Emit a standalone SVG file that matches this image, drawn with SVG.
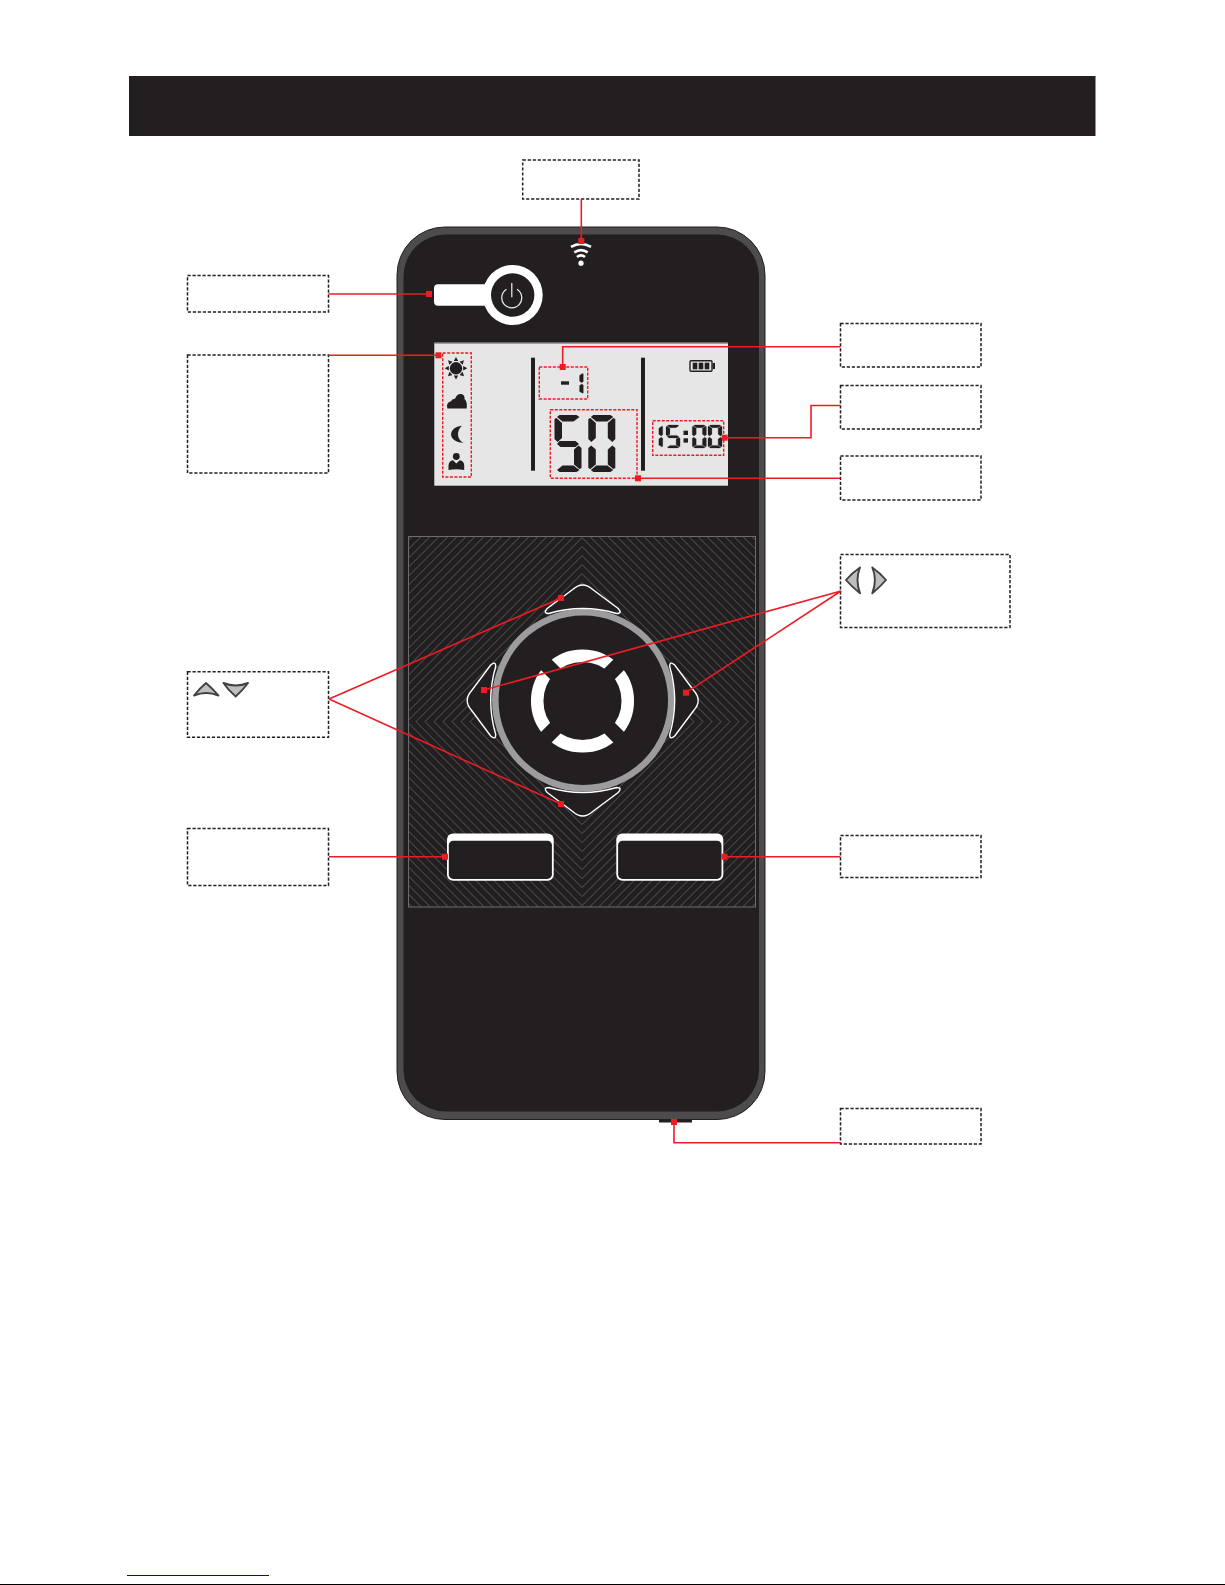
<svg xmlns="http://www.w3.org/2000/svg" xmlns:xlink="http://www.w3.org/1999/xlink" width="1225" height="1585" viewBox="0 0 1225 1585">
<style>
.dk{fill:#231f20}
.box{fill:#fff;stroke:#231f20;stroke-width:1.5;stroke-dasharray:3.2 1.8}
.rd{fill:none;stroke:#ed1c24;stroke-width:1.4;stroke-dasharray:3 1.5}
.cn{fill:none;stroke:#ed1c24;stroke-width:1.6}
.sq{fill:#ed1c24}
.mini{fill:#bcbec0;stroke:#414042;stroke-width:1.9;stroke-linejoin:round}
.btn{fill:#231f20;stroke:#fff;stroke-width:1.4}
.thin{stroke:#231f20;stroke-width:.5}
</style>
<defs>
<clipPath id="pc"><rect x="408.5" y="536.5" width="347" height="370.5"/></clipPath>
<polygon id="sa" points="5,0 22,0 25,2 19,6.5 8,6.5 2.5,2"/>
<polygon id="sf" points="0,4 2,3 7.5,8 7.5,23 3,27 0,24"/>
<polygon id="sb" points="27,4 25,3 19.5,8 19.5,23 24,27 27,24"/>
<polygon id="sg" points="5,26 21,26 24.5,29 21,32 6,32 2.5,29"/>
<polygon id="se" points="0,33 3,30.5 7.5,34.5 7.5,49.5 2,54 0,53"/>
<polygon id="sc" points="27,33 24,30.5 19.5,34.5 19.5,49.5 25,54 27,53"/>
<polygon id="sd" points="8,50.5 19,50.5 25,55 22,57 5,57 2.5,55"/>
<g id="d5" class="dk"><use href="#sa"/><use href="#sf"/><use href="#sg"/><use href="#sc"/><use href="#sd"/></g>
<g id="d0" class="dk"><use href="#sa"/><use href="#sf"/><use href="#sb"/><use href="#se"/><use href="#sc"/><use href="#sd"/></g>
<g id="d1" class="dk"><use href="#sb"/><use href="#sc"/></g>
<path id="arrow" d="M-10,-111 Q0,-120 10,-111 L35.5,-92 Q40,-87 34,-87 Q0,-97 -34,-87 Q-40,-87 -35.5,-92 Z"/>
<polygon id="ray" points="-2.2,-7.2 2.2,-7.2 0,-11.3" class="dk"/>
<rect id="s" class="sq" x="-3" y="-3" width="6" height="6"/>
</defs>
<rect width="1225" height="1585" fill="#fff"/>
<rect id="header" class="dk" x="129" y="76" width="966.5" height="60"/>
<g id="device">
<rect x="397" y="227" width="368" height="892.5" rx="48" fill="#4d4b4c" stroke="#231f20" stroke-width="1"/>
<rect x="403.5" y="234.5" width="355.5" height="877" rx="42" class="dk"/>
<rect class="dk" x="659" y="1119" width="33" height="3.5"/>
</g>
<g id="wifi" fill="none" stroke="#fff" stroke-width="2.6">
<path d="M571,246.8 Q581,241.2 591,246.8"/>
<path d="M574.3,252.4 Q581,247.8 587.7,252.4"/>
<path d="M577,257 Q581,253.6 585,257"/>
<circle cx="581" cy="263.2" r="2.6" fill="#fff" stroke="none"/>
</g>
<g id="power">
<rect x="434" y="284.3" width="70" height="21.4" rx="4" fill="#fff"/>
<circle cx="512.7" cy="295" r="30" fill="#fff"/>
<circle cx="512.7" cy="295" r="21.7" class="dk"/>
<path d="M506.5,289.3 A10 10 0 1 0 517,289.3 M511.8,283 V297.3" fill="none" stroke="#f1f2f2" stroke-width="1.2"/>
</g>
<g id="lcd">
<rect x="434.3" y="342.7" width="293.7" height="143" fill="#e6e6e6"/>
<rect x="434.3" y="342.7" width="293.7" height="1" fill="#808080"/>
<rect class="dk" x="531" y="357.7" width="4" height="113"/>
<rect class="dk" x="641" y="357.7" width="4" height="113"/>
<g id="sun"><circle class="dk" cx="456" cy="368.3" r="6.2"/>
<use href="#ray" transform="translate(456 368.3)"/><use href="#ray" transform="translate(456 368.3) rotate(45)"/><use href="#ray" transform="translate(456 368.3) rotate(90)"/><use href="#ray" transform="translate(456 368.3) rotate(135)"/><use href="#ray" transform="translate(456 368.3) rotate(180)"/><use href="#ray" transform="translate(456 368.3) rotate(225)"/><use href="#ray" transform="translate(456 368.3) rotate(270)"/><use href="#ray" transform="translate(456 368.3) rotate(315)"/></g>
<path id="cloud" class="dk" d="M447.5,408.5 Q445.5,403 451,401.3 Q452,398.5 455,398.7 Q457,393.3 461.5,394 Q465,395 464.5,399 Q467.5,401.5 466.7,408.5 Z"/>
<path id="moon" class="dk" d="M462,425.7 C447.5,427 447,442 463.5,442.8 C457,439.5 456,431 462,425.7 Z"/>
<g id="person"><circle class="dk" cx="456.3" cy="456.5" r="3.4"/><path class="dk" d="M448.5,470 V465.5 Q448.8,461 453,460.3 L456.3,463.5 L459.7,460.3 Q464.2,461 464.2,465.5 V470 Q456.3,468.5 448.5,470 Z"/></g>
<g id="battery"><rect x="690" y="360.7" width="22" height="10.6" rx="1" fill="none" stroke="#231f20" stroke-width="1.4"/><rect class="dk" x="712.7" y="363" width="2.3" height="6"/><rect class="dk" x="692.7" y="362.7" width="4.6" height="6.6"/><rect class="dk" x="698.7" y="362.7" width="4.6" height="6.6"/><rect class="dk" x="704.7" y="362.7" width="4.6" height="6.6"/></g>
<rect class="dk" x="561" y="381.3" width="8" height="3.4"/>
<use href="#d1" class="thin" transform="translate(569.8 372.3) scale(.5 .386)"/>
<use href="#d5" transform="translate(554.5 415)"/>
<use href="#d0" transform="translate(588.3 415)"/>
<use href="#d1" class="thin" transform="translate(648.7 425) scale(.52 .404)"/>
<use href="#d5" class="thin" transform="translate(666 425) scale(.52 .404)"/>
<rect class="dk" x="683.5" y="430.7" width="4.5" height="4.3"/><rect class="dk" x="683.5" y="438.3" width="4.5" height="4.3"/>
<use href="#d0" class="thin" transform="translate(692.3 425) scale(.52 .404)"/>
<use href="#d0" class="thin" transform="translate(708 425) scale(.52 .404)"/>
<rect class="rd" x="442.7" y="353" width="28.6" height="124"/>
<rect class="rd" x="539.3" y="367" width="48.4" height="32"/>
<rect class="rd" x="550.3" y="409.7" width="86.7" height="68.6"/>
<rect class="rd" x="652.7" y="420.7" width="71" height="34.6"/>
</g>
<g id="panel">
<rect x="408.5" y="536.5" width="347" height="370.5" fill="#231f20" stroke="#6d6e71" stroke-width="1"/>
<path clip-path="url(#pc)" fill="none" stroke="#58595b" stroke-width="1" d="M578 721.6l4 -4 4 4 -4 4zM569 721.6l13 -13 13 13 -13 13zM560 721.6l22 -22 22 22 -22 22zM551 721.6l31 -31 31 31 -31 31zM542 721.6l40 -40 40 40 -40 40zM533 721.6l49 -49 49 49 -49 49zM524 721.6l58 -58 58 58 -58 58zM515 721.6l67 -67 67 67 -67 67zM506 721.6l76 -76 76 76 -76 76zM497 721.6l85 -85 85 85 -85 85zM488 721.6l94 -94 94 94 -94 94zM479 721.6l103 -103 103 103 -103 103zM470 721.6l112 -112 112 112 -112 112zM461 721.6l121 -121 121 121 -121 121zM452 721.6l130 -130 130 130 -130 130zM443 721.6l139 -139 139 139 -139 139zM434 721.6l148 -148 148 148 -148 148zM425 721.6l157 -157 157 157 -157 157zM416 721.6l166 -166 166 166 -166 166zM407 721.6l175 -175 175 175 -175 175zM398 721.6l184 -184 184 184 -184 184zM389 721.6l193 -193 193 193 -193 193zM380 721.6l202 -202 202 202 -202 202zM371 721.6l211 -211 211 211 -211 211zM362 721.6l220 -220 220 220 -220 220zM353 721.6l229 -229 229 229 -229 229zM344 721.6l238 -238 238 238 -238 238zM335 721.6l247 -247 247 247 -247 247zM326 721.6l256 -256 256 256 -256 256zM317 721.6l265 -265 265 265 -265 265zM308 721.6l274 -274 274 274 -274 274zM299 721.6l283 -283 283 283 -283 283zM290 721.6l292 -292 292 292 -292 292zM281 721.6l301 -301 301 301 -301 301zM272 721.6l310 -310 310 310 -310 310zM263 721.6l319 -319 319 319 -319 319zM254 721.6l328 -328 328 328 -328 328zM245 721.6l337 -337 337 337 -337 337zM236 721.6l346 -346 346 346 -346 346zM227 721.6l355 -355 355 355 -355 355zM218 721.6l364 -364 364 364 -364 364z"/>
</g>
<g id="dial">
<circle cx="583.3" cy="700.3" r="88" fill="#231f20" stroke="#9c9c9e" stroke-width="6.5"/>
<circle cx="582.5" cy="701" r="45.3" fill="none" stroke="#fff" stroke-width="12.5"/>
<path d="M540,658.5 L625,743.5 M625,658.5 L540,743.5" fill="none" stroke="#231f20" stroke-width="15"/>
</g>
<use id="btn-up" class="btn" href="#arrow" transform="translate(582.7 700.5)"/>
<use id="btn-right" class="btn" href="#arrow" transform="translate(582.7 700.5) rotate(90)"/>
<use id="btn-down" class="btn" href="#arrow" transform="translate(582.7 700.5) rotate(180)"/>
<use id="btn-left" class="btn" href="#arrow" transform="translate(582.7 700.5) rotate(270)"/>
<g id="btn-a"><rect x="447" y="833.5" width="106.7" height="47.2" rx="6" fill="#fff"/><rect class="dk" x="448.8" y="840.7" width="103.1" height="38.2" rx="4.5"/></g>
<g id="btn-b"><rect x="616.3" y="833.5" width="107" height="47.2" rx="6" fill="#fff"/><rect class="dk" x="618.1" y="840.7" width="103.4" height="38.2" rx="4.5"/></g>
<rect id="label-top" class="box" x="522.7" y="160" width="116.3" height="39"/>
<rect id="label-power" class="box" x="187.5" y="275.5" width="141" height="36.5"/>
<rect id="label-modes" class="box" x="187.5" y="355" width="141" height="118"/>
<rect id="label-r1" class="box" x="840.5" y="323.5" width="140.5" height="43.5"/>
<rect id="label-r2" class="box" x="840.5" y="385.5" width="140.5" height="43.5"/>
<rect id="label-r3" class="box" x="840.5" y="456" width="140.5" height="44"/>
<g id="label-lr"><rect class="box" x="840.5" y="554.5" width="169.5" height="73"/>
<path class="mini" d="M860,567.5 Q852,573 846,580 Q852,587 860,593.3 Q855,580 860,567.5 Z"/>
<path class="mini" d="M872.3,567.5 Q880,573 886,580 Q880,587 872.3,593.3 Q877.5,580 872.3,567.5 Z"/></g>
<g id="label-ud"><rect class="box" x="187.5" y="671.7" width="141" height="65.6"/>
<path class="mini" d="M206,683 Q200,688 194,695.5 Q206,690.5 218.5,695.5 Q212,688 206,683 Z"/>
<path class="mini" d="M223.5,683 Q228,690 235.7,696.5 Q243,690 248,683 Q235.7,688 223.5,683 Z"/></g>
<rect id="label-left" class="box" x="187.5" y="828.5" width="141" height="57"/>
<rect id="label-right" class="box" x="840.5" y="835.5" width="140.5" height="42"/>
<rect id="label-port" class="box" x="840.5" y="1108.5" width="140.5" height="35.5"/>
<g id="connectors">
<path class="cn" d="M581.3,199V241"/>
<path class="cn" d="M328.5,294H429"/>
<path class="cn" d="M328.5,355.3H438.5"/>
<path class="cn" d="M840.5,346.7H562.7V367"/>
<path class="cn" d="M840.5,405.5H811V437.7H724.7"/>
<path class="cn" d="M840.5,478.3H638"/>
<path class="cn" d="M841,591L484,690M841,591L686,692.7"/>
<path class="cn" d="M329,699L561,598M329,699L561,804"/>
<path class="cn" d="M329,856.7H445"/>
<path class="cn" d="M840.5,856.7H724.5"/>
<path class="cn" d="M840.5,1142.7H674V1122"/>
<use href="#s" x="581.3" y="241"/><use href="#s" x="429" y="294"/><use href="#s" x="438.5" y="355.3"/><use href="#s" x="562.7" y="367"/><use href="#s" x="724.7" y="437.7"/><use href="#s" x="638" y="478.3"/><use href="#s" x="484" y="690"/><use href="#s" x="686" y="692.7"/><use href="#s" x="561" y="598"/><use href="#s" x="561" y="804"/><use href="#s" x="445" y="856.7"/><use href="#s" x="724.5" y="856.7"/><use href="#s" x="674" y="1122"/>
</g>
<rect x="127" y="1575" width="142" height="1" fill="#0000cc"/>
<rect x="0" y="1584" width="1225" height="1" fill="#000"/>
</svg>
